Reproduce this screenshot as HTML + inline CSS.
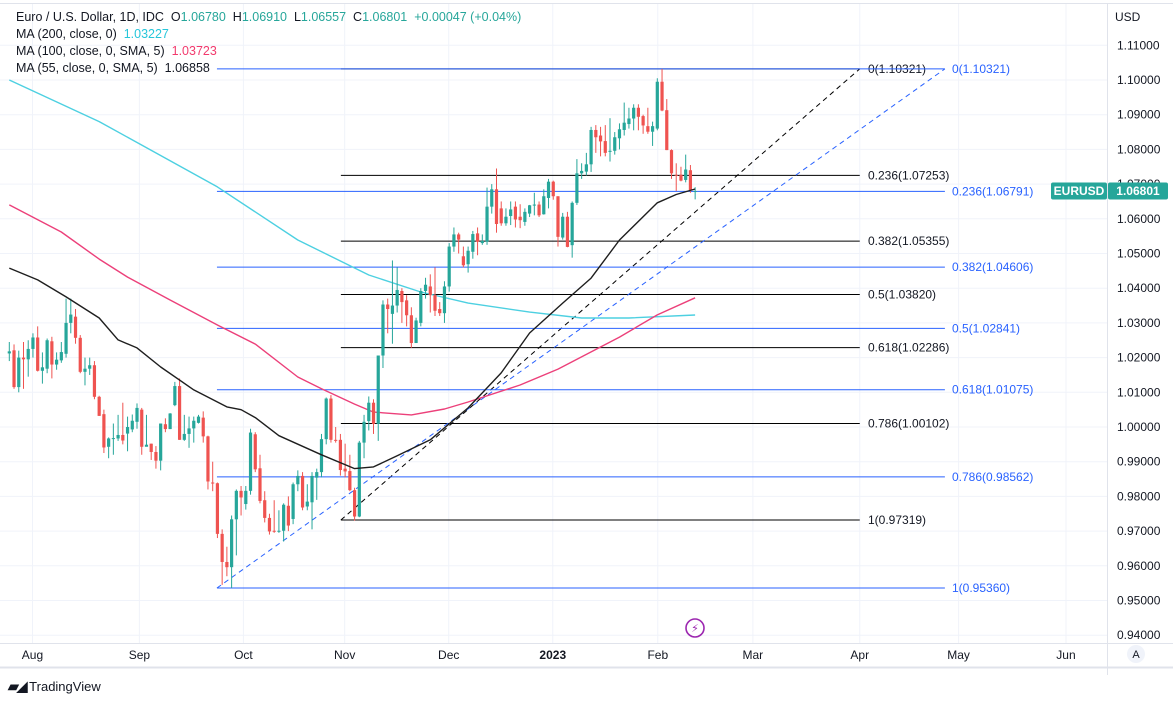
<!DOCTYPE html>
<html><head><meta charset="utf-8"><style>
body{margin:0;background:#fff;font-family:"Liberation Sans",sans-serif;}
#wrap{position:relative;width:1173px;height:702px;overflow:hidden;background:#fff}
.hdr{position:absolute;left:16px;font-size:12.5px;color:#131722;white-space:nowrap}
</style></head><body>
<div id="wrap">
<svg id="svg" width="1173" height="702" style="position:absolute;left:0;top:0"></svg>
<div class="hdr" style="top:10px">Euro / U.S. Dollar, 1D, IDC &nbsp;O<span style="color:#26a69a">1.06780</span> &nbsp;H<span style="color:#26a69a">1.06910</span> &nbsp;L<span style="color:#26a69a">1.06557</span> &nbsp;C<span style="color:#26a69a">1.06801</span> &nbsp;<span style="color:#26a69a">+0.00047 (+0.04%)</span></div>
<div class="hdr" style="top:27px">MA (200, close, 0) &nbsp;<span style="color:#26c6da">1.03227</span></div>
<div class="hdr" style="top:44px">MA (100, close, 0, SMA, 5) &nbsp;<span style="color:#f23a6d">1.03723</span></div>
<div class="hdr" style="top:61px">MA (55, close, 0, SMA, 5) &nbsp;1.06858</div>
<div style="position:absolute;left:8px;top:678px;font-size:13px;color:#131722;font-weight:bold"><span style="font-size:14px;letter-spacing:-2px">▰◢</span> <span style="font-weight:normal">TradingView</span></div>
</div>
<script>
const opens=[1.0212,1.0221,1.0115,1.0200,1.0195,1.0225,1.0258,1.0162,1.0168,1.0247,1.0180,1.0192,1.0211,1.0300,1.0318,1.0257,1.0159,1.0168,1.0178,1.0087,1.0037,0.9943,0.9966,0.9967,0.9977,0.9981,0.9993,1.0015,1.0050,0.9943,0.9952,0.9928,0.9903,1.0008,0.9994,1.0063,1.0118,0.9963,0.9980,0.9996,1.0012,1.0027,0.9973,0.9840,0.9838,0.9692,0.9611,0.9596,0.9734,0.9816,0.9778,0.9816,0.9979,0.9881,0.9789,0.9738,0.9701,0.9699,0.9701,0.9773,0.9735,0.9835,0.9859,0.9771,0.9783,0.9854,0.9870,0.9965,1.0082,0.9963,0.9963,0.9880,0.9873,0.9818,0.9742,0.9955,1.0017,1.0070,1.0009,1.0206,1.0353,1.0326,1.0350,1.0392,1.0365,1.0322,1.0242,1.0300,1.0392,1.0405,1.0380,1.0340,1.0328,1.0405,1.0520,1.0555,1.0492,1.0469,1.0505,1.0558,1.0530,1.0534,1.0635,1.0685,1.0630,1.0587,1.0608,1.0635,1.0606,1.0591,1.0615,1.0639,1.0641,1.0613,1.0660,1.0707,1.0665,1.0546,1.0606,1.0524,1.0646,1.0731,1.0736,1.0757,1.0856,1.0840,1.0824,1.0793,1.0796,1.0832,1.0856,1.0873,1.0889,1.0920,1.0896,1.0867,1.0851,1.0860,1.0995,1.0913,1.0798,1.0727,1.0727,1.0712,1.0740,1.0678];
const closes=[1.0218,1.0115,1.0200,1.0195,1.0225,1.0258,1.0162,1.0172,1.0250,1.0180,1.0194,1.0216,1.0300,1.0324,1.0257,1.0159,1.0168,1.0178,1.0087,1.0032,0.9941,0.9967,0.9968,0.9977,0.9961,1.0000,1.0018,1.0055,0.9943,0.9949,0.9928,0.9903,1.0010,0.9994,1.0039,1.0118,0.9963,0.9980,0.9996,1.0018,1.0030,0.9973,0.9843,0.9838,0.9692,0.9611,0.9596,0.9734,0.9816,0.9797,0.9816,0.9984,0.9878,0.9787,0.9738,0.9699,0.9699,0.9701,0.9776,0.9716,0.9835,0.9859,0.9768,0.9785,0.9859,0.9870,0.9965,1.0082,0.9963,0.9962,0.9876,0.9872,0.9818,0.9742,0.9955,1.0015,1.0070,1.0009,1.0206,1.0353,1.0340,1.0350,1.0395,1.0360,1.0322,1.0242,1.0307,1.0392,1.0410,1.0380,1.0335,1.0328,1.0405,1.0520,1.0555,1.0540,1.0466,1.0508,1.0556,1.0534,1.0536,1.0635,1.0685,1.0585,1.0587,1.0606,1.0627,1.0598,1.0596,1.0620,1.0639,1.0641,1.0610,1.0665,1.0707,1.0665,1.0548,1.0606,1.0519,1.0646,1.0731,1.0738,1.0757,1.0856,1.0835,1.0823,1.0790,1.0796,1.0835,1.0858,1.0877,1.0889,1.0920,1.0894,1.0869,1.0851,1.0867,1.0995,1.0912,1.0798,1.0731,1.0725,1.0710,1.0742,1.0683,1.0680];
const highs=[1.0245,1.0238,1.0220,1.0245,1.0250,1.0270,1.0290,1.0215,1.0255,1.0260,1.0215,1.0245,1.0370,1.0370,1.0340,1.0265,1.0200,1.0200,1.0190,1.0090,1.0050,0.9970,1.0010,1.0035,1.0070,1.0030,1.0036,1.0068,1.0055,1.0035,0.9952,0.9945,1.0010,1.0025,1.0040,1.0130,1.0140,1.0035,1.0030,1.0030,1.0035,1.0045,0.9975,0.9900,0.9840,0.9705,0.9655,0.9745,0.9820,0.9830,0.9830,0.9995,0.9985,0.9920,0.9815,0.9750,0.9789,0.9760,0.9780,0.9800,0.9840,0.9875,0.9870,0.9835,0.9870,0.9880,0.9980,1.0085,1.0092,1.0000,0.9980,0.9952,0.9920,0.9825,0.9960,1.0035,1.0088,1.0080,1.0206,1.0365,1.0370,1.0480,1.0460,1.0400,1.0380,1.0345,1.0315,1.0400,1.0430,1.0440,1.0460,1.0360,1.0420,1.0530,1.0575,1.0560,1.0520,1.0520,1.0565,1.0575,1.0555,1.0690,1.0700,1.0745,1.0650,1.0630,1.0650,1.0650,1.0642,1.0630,1.0640,1.0675,1.0650,1.0685,1.0715,1.0710,1.0665,1.0617,1.0620,1.0650,1.0772,1.0760,1.0790,1.0865,1.0870,1.0865,1.0870,1.0890,1.0850,1.0875,1.0935,1.0920,1.0930,1.0930,1.0900,1.0920,1.0880,1.1005,1.1032,1.0945,1.0800,1.0760,1.0750,1.0785,1.0755,1.0691];
const lows=[1.0190,1.0110,1.0100,1.0110,1.0145,1.0200,1.0160,1.0125,1.0155,1.0140,1.0165,1.0185,1.0200,1.0270,1.0240,1.0155,1.0120,1.0150,1.0080,1.0032,0.9925,0.9910,0.9920,0.9960,0.9950,0.9930,0.9985,0.9995,0.9920,0.9945,0.9905,0.9880,0.9875,0.9985,0.9994,1.0060,0.9963,0.9960,0.9940,0.9955,1.0010,0.9955,0.9820,0.9815,0.9680,0.9545,0.9570,0.9536,0.9630,0.9745,0.9762,0.9805,0.9870,0.9780,0.9725,0.9690,0.9695,0.9695,0.9670,0.9700,0.9720,0.9815,0.9760,0.9760,0.9705,0.9790,0.9855,0.9950,0.9955,0.9955,0.9860,0.9855,0.9815,0.9730,0.9740,0.9910,0.9990,0.9980,0.9960,1.0170,1.0270,1.0240,1.0330,1.0300,1.0290,1.0228,1.0242,1.0290,1.0370,1.0330,1.0320,1.0320,1.0300,1.0390,1.0505,1.0500,1.0460,1.0445,1.0485,1.0495,1.0525,1.0525,1.0615,1.0560,1.0580,1.0580,1.0582,1.0575,1.0573,1.0580,1.0605,1.0610,1.0605,1.0612,1.0630,1.0655,1.0520,1.0540,1.0518,1.0488,1.0640,1.0715,1.0725,1.0735,1.0790,1.0780,1.0780,1.0765,1.0785,1.0800,1.0840,1.0860,1.0855,1.0855,1.0845,1.0845,1.0810,1.0855,1.0910,1.0798,1.0715,1.0680,1.0708,1.0705,1.0675,1.0656];
const ma200Idx=[0,19,44,61,76,87,97,110,121,131,145];
const ma200Val=[1.1000,1.0880,1.0692,1.0539,1.0438,1.0389,1.0357,1.0331,1.0314,1.0314,1.03227];
const ma100Idx=[0,11,19,25,34,44,52,61,66,73,77,85,92,97,108,116,129,137,145];
const ma100Val=[1.0640,1.0562,1.0484,1.0432,1.0366,1.0294,1.0239,1.0144,1.0110,1.0066,1.0043,1.0035,1.0052,1.0072,1.0121,1.0167,1.0259,1.0323,1.03723];
const ma55Idx=[0,6,12,19,23,27,32,39,46,49,52,57,66,73,77,82,89,97,104,110,117,123,129,137,141,145];
const ma55Val=[1.0458,1.0424,1.0375,1.0314,1.0251,1.0228,1.0173,1.0107,1.0058,1.0050,1.0027,0.9975,0.9920,0.9880,0.9885,0.9917,0.9963,1.0055,1.0156,1.0271,1.0357,1.0429,1.0539,1.0646,1.0670,1.06858];
const fibLevels=[0,0.236,0.382,0.5,0.618,0.786,1];
const blackFibPrices=[1.10321,1.07253,1.05355,1.03820,1.02286,1.00102,0.97319];
const blueFibPrices=[1.10321,1.06791,1.04606,1.02841,1.01075,0.98562,0.95360];
const priceTicks=[1.11,1.10,1.09,1.08,1.07,1.06,1.05,1.04,1.03,1.02,1.01,1.00,0.99,0.98,0.97,0.96,0.95,0.94];
const monthLabels=["Aug","Sep","Oct","Nov","Dec","2023","Feb","Mar","Apr","May","Jun"];
const monthIdx=[4.9,27.5,49.5,70.9,92.9,114.9,137.1,157.2,179.8,200.7,223.4];
const lastPrice=1.06801;

const NS="http://www.w3.org/2000/svg";
const svg=document.getElementById('svg');
const Y=p=>80+(1.10-p)*3470;
const X=i=>9.3+i*4.73;
function mk(tag,attrs,parent){const e=document.createElementNS(NS,tag);for(const k in attrs)e.setAttribute(k,attrs[k]);(parent||svg).appendChild(e);return e;}

const grid=mk('g',{});


mk('line',{x1:0,y1:3.5,x2:1173,y2:3.5,stroke:'#e0e3eb','stroke-width':1},grid);
priceTicks.forEach(p=>{mk('line',{x1:0,x2:1107,y1:Y(p),y2:Y(p),stroke:'#f0f3fa','stroke-width':1},grid);});
monthIdx.forEach(i=>{mk('line',{x1:X(i),x2:X(i),y1:4,y2:643,stroke:'#f0f3fa','stroke-width':1},grid);});
mk('line',{x1:1107.5,y1:4,x2:1107.5,y2:675,stroke:'#e0e3eb'},grid);
mk('line',{x1:0,y1:643.5,x2:1173,y2:643.5,stroke:'#e0e3eb'},grid);
mk('line',{x1:0,y1:667.5,x2:1173,y2:667.5,stroke:'#e0e3eb','stroke-width':2},grid);

const ax=mk('g',{'font-family':'Liberation Sans, sans-serif','font-size':12,fill:'#131722'});


const usd=mk('text',{x:1115,y:21},ax);usd.textContent='USD';
priceTicks.forEach(p=>{const t=mk('text',{x:1117,y:Y(p)+4},ax);t.textContent=p.toFixed(5);});
const tx=mk('g',{'font-family':'Liberation Sans, sans-serif','font-size':12,fill:'#131722','text-anchor':'middle'});


monthLabels.forEach((m,k)=>{const t=mk('text',{x:X(monthIdx[k]),y:659,'font-weight':m==='2023'?'bold':'normal'},tx);t.textContent=m;});
const ab=mk('circle',{cx:1136,cy:654,r:9,fill:'#f0f3fa'});


const at=mk('text',{x:1136,y:658,'font-size':11,'text-anchor':'middle',fill:'#131722','font-family':'Liberation Sans, sans-serif'});at.textContent='A';

function fib(prices,x1,x2,color,labelX,name){
  const g=mk('g',{});
  
  
  prices.forEach((p,k)=>{
    mk('line',{x1:x1,x2:x2,y1:Y(p),y2:Y(p),stroke:color,'stroke-width':1},g);
    const t=mk('text',{x:labelX,y:Y(p)+4,'font-size':12,fill:color==='#000'?'#131722':'#2962ff','font-family':'Liberation Sans, sans-serif'},g);
    t.textContent=fibLevels[k]+'('+p.toFixed(5)+')';
  });
  mk('line',{x1:x1,y1:Y(prices[6]),x2:x2,y2:Y(prices[0]),stroke:color==='#000'?'#000':'#2962ff','stroke-width':1,'stroke-dasharray':'5,4'},g);
}
fib(blackFibPrices,X(70.1),X(179.8),'#000',868,'fib-retracement-black');
fib(blueFibPrices,X(43.9),X(197.8),'#2962ff',952,'fib-retracement-blue');

function ma(idx,val,color,name){
  const d=idx.map((i,k)=>(k?'L':'M')+X(i).toFixed(1)+' '+Y(val[k]).toFixed(1)).join(' ');
  const p=mk('path',{d:d,fill:'none',stroke:color,'stroke-width':1.4,'stroke-linejoin':'round'});
  
  
}
ma(ma200Idx,ma200Val,'#4dd0e1','ma200-line');
ma(ma100Idx,ma100Val,'#ec407a','ma100-line');

const cg=mk('g',{});


for(let i=0;i<closes.length;i++){
  const up=closes[i]>=opens[i];const c=up?'#26a69a':'#ef5350';
  const x=X(i);
  const w=mk('line',{x1:x,x2:x,y1:Y(highs[i]),y2:Y(lows[i]),stroke:c,'stroke-width':1},cg);
  
  const top=Y(Math.max(opens[i],closes[i])),bot=Y(Math.min(opens[i],closes[i]));
  const r=mk('rect',{x:x-1.6,y:top,width:3.2,height:Math.max(1,bot-top),fill:c},cg);
  
  
}
ma(ma55Idx,ma55Val,'#1e1e1e','ma55-line');

const ly=Y(lastPrice);
const lb=mk('g',{});


mk('rect',{x:1051,y:ly-8.5,width:56,height:17,rx:2,fill:'#26a69a'},lb);
mk('rect',{x:1108,y:ly-8.5,width:60,height:17,rx:2,fill:'#26a69a'},lb);
const t1=mk('text',{x:1079,y:ly+4,'text-anchor':'middle',fill:'#fff','font-size':12,'font-weight':'bold','font-family':'Liberation Sans, sans-serif'},lb);t1.textContent='EURUSD';
const t2=mk('text',{x:1138,y:ly+4,'text-anchor':'middle',fill:'#fff','font-size':12,'font-weight':'bold','font-family':'Liberation Sans, sans-serif'},lb);t2.textContent=lastPrice.toFixed(5);

const ev=mk('g',{});


mk('circle',{cx:695,cy:628,r:9,fill:'#fff',stroke:'#9c27b0','stroke-width':1.6},ev);
const bolt=mk('text',{x:695,y:632,'text-anchor':'middle',fill:'#9c27b0','font-size':11,'font-family':'DejaVu Sans, sans-serif'},ev);bolt.textContent='⚡';
</script>
</body></html>
